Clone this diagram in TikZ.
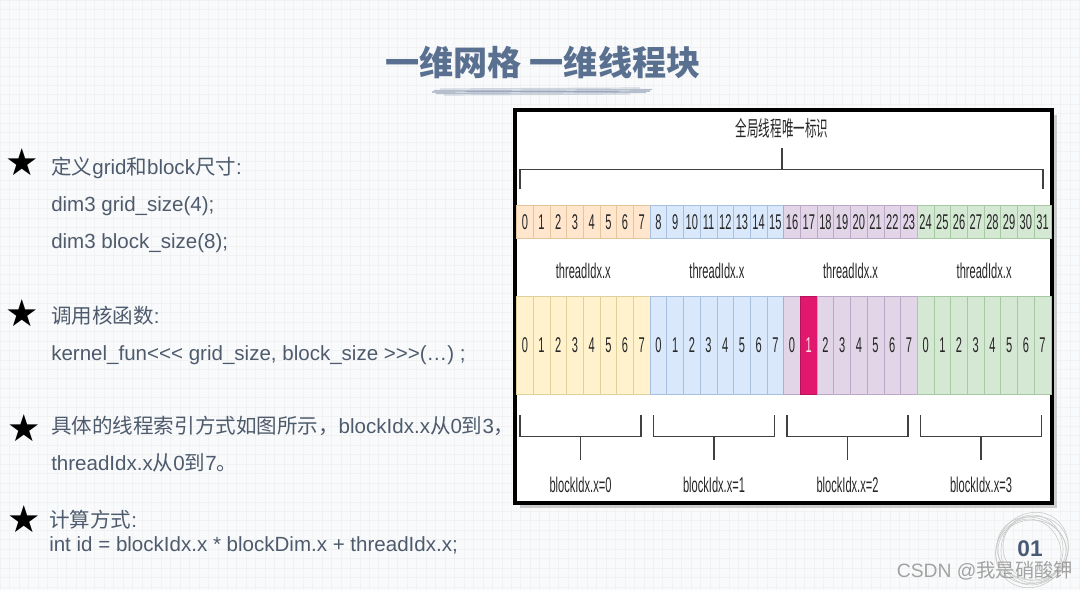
\documentclass[tikz,border=0pt]{standalone}
\usepackage{fontspec}
\newfontfamily\latin{Liberation Sans}
\newfontfamily\cjk{Noto Sans CJK SC}
\newfontfamily\narrow[FakeStretch=0.52]{Liberation Sans}
\newfontfamily\cjknarrow[FakeStretch=0.54]{Noto Sans CJK SC}
\newfontfamily\symb{DejaVu Sans}

\definecolor{paper}{HTML}{F9FAFB}
\definecolor{slate}{HTML}{5A7090}
\definecolor{bodytext}{HTML}{4E5B6D}
\definecolor{peach}{HTML}{FFE6CC}
\definecolor{peachline}{HTML}{E6C49C}
\definecolor{sand}{HTML}{FFF2CC}
\definecolor{sandline}{HTML}{E0D09C}
\definecolor{sky}{HTML}{DAE8FC}
\definecolor{skyline}{HTML}{A8BEDD}
\definecolor{lilac}{HTML}{E1D5E7}
\definecolor{lilacline}{HTML}{BBA7C6}
\definecolor{mint}{HTML}{D5E8D4}
\definecolor{mintline}{HTML}{A6C8A3}
\definecolor{hot}{HTML}{E2186E}

\begin{document}
\begin{tikzpicture}[x=0.75pt,y=-0.75pt,
    body/.style={anchor=base west,inner sep=0pt,text=bodytext,font=\latin\fontsize{15.4}{18}\selectfont},
    starmark/.style={inner sep=0pt,font=\symb\fontsize{28}{28}\selectfont},
    cellbox/.style={draw,inner sep=0pt,minimum width=12.52pt,line width=0.5pt,text=black!85,font=\narrow\fontsize{16}{16}\selectfont},
    idcell/.style={cellbox,minimum height=24.4pt},
    thcell/.style={cellbox,minimum height=73.5pt},
    lab/.style={inner sep=0pt,text=black!85,font=\narrow\fontsize{16}{16}\selectfont},
    brk/.style={draw=black!75,line width=0.9pt}]
  \useasboundingbox (0,0) rectangle (1080,590);
  % --- slide background ---
  \fill[paper] (0,0) rectangle (1080,590);
  \draw[black!5,line width=0.3pt,step=7.1pt] (0pt,-442.5pt) grid (810pt,0pt);

  % --- title with brush stroke ---
  \node[font=\cjk\bfseries\fontsize{25.6}{30}\selectfont,text=slate] (title) at (543,62) {一维网格 一维线程块};
  \foreach \dy/\xa/\xb/\op in {-3/440/640/0.3,-1.5/434/652/0.5,0/432/650/0.7,1.5/436/646/0.5,3/444/630/0.3}
    \draw[slate!85,line width=0.9pt,opacity=\op] (\xa,92+\dy) -- (\xb,91+\dy);

  % --- left column text ---
  \node[starmark] (s1) at (22,162) {★};
  \node[body] (t1) at (51,174) {{\cjk 定义}grid{\cjk 和}block{\cjk 尺寸}:};
  \node[body] (t1a) at (51,211) {dim3 grid\_size(4);};
  \node[body] (t1b) at (51,248) {dim3 block\_size(8);};
  \node[starmark] (s2) at (22,313) {★};
  \node[body] (t2) at (51,323) {{\cjk 调用核函数}:};
  \node[body] (t2a) at (51,360) {kernel\_fun<<< grid\_size, block\_size >>>(…) ;};
  \node[starmark] (s3) at (24,428) {★};
  \node[body] (t3) at (51,433) {{\cjk 具体的线程索引方式如图所示，}blockIdx.x{\cjk 从}0{\cjk 到}3{\cjk ，}};
  \node[body] (t3a) at (51,470) {threadIdx.x{\cjk 从}0{\cjk 到}7{\cjk 。}};
  \node[starmark] (s4) at (24,519) {★};
  \node[body] (t4) at (49,527) {{\cjk 计算方式}:};
  \node[body] (t4a) at (49,551) {int id = blockIdx.x * blockDim.x + threadIdx.x;};

  % --- framed diagram ---
  \fill[black!20] (520,115) rectangle (1057,508);
  \fill[white] (515,110) rectangle (1052,503);
  \draw[line width=3pt] (515,110) rectangle (1052,503);

  \node[lab,font=\cjknarrow\fontsize{16}{16}\selectfont] (gid) at (782,128) {全局线程唯一标识};
  \coordinate (topL) at (520,189);
  \coordinate (topR) at (1043,189);
  \coordinate (topM) at (782,169.5);
  \draw[brk] (topL) -- (520,169.5) -- (1043,169.5) -- (topR);
  \draw[brk] (topM) -- ++(0,-21.5);

  % global ids 0..31
  \foreach \b/\fc/\dc in {0/peach/peachline,1/sky/skyline,2/lilac/lilacline,3/mint/mintline}{
    \foreach \t in {0,...,7}{
      \pgfmathtruncatemacro{\g}{8*\b+\t}
      \node[idcell,fill=\fc,draw=\dc] (id\g) at ({516.5+16.7*(\g+0.5)},222) {\g};
    }
    \node[lab] (tix\b) at ({516.5+133.6*\b+66.8},271) {threadIdx.x};
  }

  % thread ids 0..7 per block, one cell picked out
  \foreach \b/\fc/\dc in {0/sand/sandline,1/sky/skyline,2/lilac/lilacline,3/mint/mintline}{
    \foreach \t in {0,...,7}{
      \ifnum\numexpr8*\b+\t\relax=17
        \def\cf{hot}\def\cd{hot!80!black}\def\ct{pink!40}%
      \else
        \def\cf{\fc}\def\cd{\dc}\def\ct{black!85}%
      \fi
      \node[thcell,fill=\cf,draw=\cd,text=\ct] (th\b-\t) at ({516.5+16.7*(8*\b+\t+0.5)},345) {\t};
    }
  }

  % block brackets
  \foreach \b in {0,...,3}{
    \node[lab] (bix\b) at ({580.5+133.5*\b},485) {blockIdx.x=\b};
    \draw[brk] ({520+133.5*\b},415) -- ({520+133.5*\b},436.5) -- ({641+133.5*\b},436.5) -- ({641+133.5*\b},415);
    \draw[brk] ({580.5+133.5*\b},436.5) -- ++(0,23.5);
  }

  % --- page mark and watermark ---
  \foreach \r/\a in {34/0,37/25,39/55,35/85,32/120,36/150}
    \draw[black!22,line width=0.4pt,rotate around={\a:(1032,550)}] (1032,550) ellipse [x radius=\r, y radius=\r-4];
  \node[inner sep=0pt,font=\latin\bfseries\fontsize{17}{17}\selectfont,text=slate!80!black] (pg) at (1030,549) {01};
  \node[inner sep=0pt,font=\latin\fontsize{14.5}{15}\selectfont,text=black!40,opacity=0.9] (wm) at (985,571) {CSDN @{\cjk 我是硝酸钾}};
\end{tikzpicture}
\end{document}
